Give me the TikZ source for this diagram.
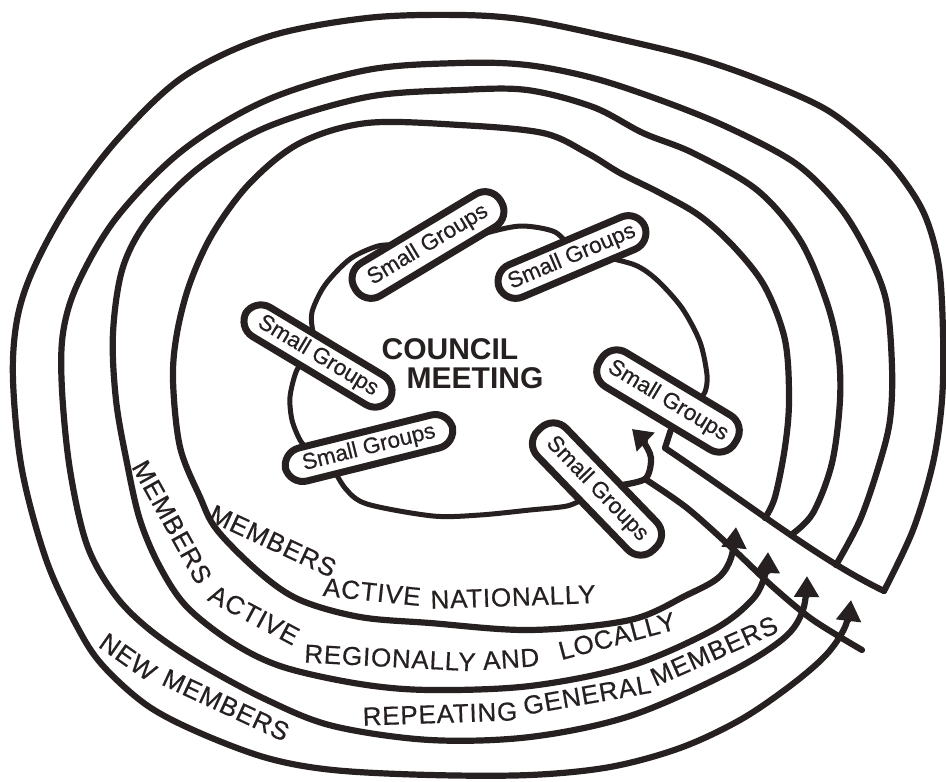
\documentclass[tikz,border=0pt]{standalone}
\usepackage{fontspec}
\setmainfont{Liberation Sans}
\newfontfamily\labfont[LetterSpace=3,FakeBold=0.5]{Liberation Sans}
\newfontfamily\sgfont[FakeBold=0.4]{Liberation Sans}
\usetikzlibrary{arrows.meta}
\definecolor{ink}{RGB}{38,32,32}
\begin{document}
\begin{tikzpicture}[x=1pt,y=-1pt,
  ring/.style={draw=ink,line width=6.2pt,line cap=round,line join=round},
  blobline/.style={draw=ink,line width=5pt,line cap=round,line join=round},
  flowtip/.style={-{Triangle[width=24pt,length=21pt]}},
  sg/.style={draw=ink,line width=7pt,fill=white,rounded corners=18pt,inner sep=0pt,text=ink,font=\sgfont\fontsize{22.5}{24}\selectfont},
  lab/.style={text=ink,font=\labfont\fontsize{26}{28}\selectfont,inner sep=0pt},
  titlelab/.style={text=ink,font=\bfseries\fontsize{30}{32}\selectfont,inner sep=0pt}]
\useasboundingbox (0,0) rectangle (946,782);

% ring lines (outermost L4 to innermost L1), each ending as an arrow into the channel
\draw[ring,flowtip] plot[smooth,tension=0.55] coordinates {(884,591) (913,530) (933,463) (942,400) (943,333) (939,267) (926,218) (905,182) (877,150) (827,110) (760,80) (693,57) (610,37) (527,20) (460,15) (367,18) (267,37) (183,77) (117,140) (67,207) (33,270) (17,320) (13,380) (22,470) (47,562) (80,632) (105,668) (148,706) (200,733) (267,758) (333,770) (430,775) (530,775) (610,767) (680,748) (740,720) (790,686) (826,655) (845,627) (851,600)};
\draw[ring,flowtip] plot[smooth,tension=0.55] coordinates {(836,565) (860,520) (879,465) (890,420) (892,367) (886,300) (866,250) (838,205) (795,163) (727,127) (660,100) (593,78) (527,65) (460,63) (367,70) (267,100) (183,150) (117,217) (78,283) (63,333) (62,390) (70,470) (87,545) (115,595) (150,630) (200,664) (267,700) (333,726) (430,740) (530,737) (630,716) (730,672) (784,638) (803,610) (807,576)};
\draw[ring,flowtip] plot[smooth,tension=0.55] coordinates {(791,535) (813,513) (832,463) (840,400) (838,350) (826,300) (800,240) (757,190) (693,153) (643,133) (593,107) (527,90) (460,90) (367,97) (267,127) (200,167) (150,217) (123,267) (113,333) (116,400) (127,463) (140,520) (160,567) (187,607) (233,643) (283,667) (360,684) (430,690) (530,686) (630,666) (713,630) (752,600) (765,575) (768,552)};
\draw[ring,flowtip] plot[smooth,tension=0.55] coordinates {(765,518) (775,497) (785,447) (789,400) (785,340) (765,287) (735,248) (700,216) (660,193) (620,173) (587,153) (543,133) (460,125) (367,123) (300,143) (250,183) (213,233) (190,283) (177,333) (173,380) (180,447) (200,497) (217,530) (260,573) (300,600) (360,617) (430,623) (530,630) (630,620) (687,595) (718,578) (731,558) (736,527)};

% council meeting outline, drawn between the small groups
\draw[blobline] plot[smooth] coordinates {(462,242) (490,232) (522,226) (555,232) (572,250)};
\draw[blobline] plot[smooth] coordinates {(600,256) (635,265) (657,280) (682,308) (700,342) (707,375) (705,392) (697,402)};
\draw[blobline] plot[smooth] coordinates {(400,245) (378,246) (350,259) (325,285) (312,312) (313,332) (318,346)};
\draw[blobline] plot[smooth] coordinates {(305,358) (296,372) (290,397) (292,420) (300,440) (310,452)};
\draw[blobline] plot[smooth] coordinates {(330,462) (345,488) (367,504) (433,516) (480,515) (530,510) (567,506) (585,498)};

% channel
\coordinate (fork) at (645,479);
\draw[ring] (674,420) -- (665,448) .. controls (760,512) and (820,560) .. (884,591);
\draw[ring] plot[smooth] coordinates {(fork) (687,508) (733,549) (773,587) (813,620) (862,650)};
\draw[ring,-{Triangle[width=25pt,length=19pt]}] plot[smooth] coordinates {(615,486) (fork) (651,458) (643,441) (632,429)};

% small groups
\node[sg,rotate=31,minimum width=170pt,minimum height=38pt] (sgA) at (428,245) {Small Groups};
\node[sg,rotate=23,minimum width=158pt,minimum height=35pt] (sgB) at (572,257) {Small Groups};
\node[sg,rotate=-31,minimum width=168pt,minimum height=34pt] (sgC) at (318,356) {Small Groups};
\node[sg,rotate=14,minimum width=172pt,minimum height=34pt] (sgD) at (369,448) {Small Groups};
\node[sg,rotate=-31,minimum width=158pt,minimum height=40pt] (sgE) at (668,401) {Small Groups};
\node[sg,rotate=-46,minimum width=166pt,minimum height=40pt] (sgF) at (597,489) {Small Groups};

% title
\node[titlelab] (c1) at (450,349) {COUNCIL};
\node[titlelab] (c2) at (475,378) {MEETING};

% band labels
\node[lab,rotate=-25] (t1a) at (273,541) {MEMBERS};
\node[lab,rotate=-6] (t1b) at (372,592) {ACTIVE};
\node[lab,rotate=2] (t1c) at (513,597) {NATIONALLY};
\node[lab,rotate=-61] (t2a) at (172,522) {MEMBERS};
\node[lab,rotate=-28] (t2b) at (254,615) {ACTIVE};
\node[lab,rotate=-3] (t2c) at (390,658) {REGIONALLY};
\node[lab,rotate=4] (t2d) at (511,659) {AND};
\node[lab,rotate=15] (t2e) at (617,636) {LOCALLY};
\node[lab,rotate=2] (t3a) at (440,714) {REPEATING};
\node[lab,rotate=10] (t3b) at (587,695) {GENERAL};
\node[lab,rotate=24] (t3c) at (714,651) {MEMBERS};
\node[lab,rotate=-35] (t4a) at (128,657) {NEW};
\node[lab,rotate=-25] (t4b) at (226,705) {MEMBERS};
\end{tikzpicture}
\end{document}
